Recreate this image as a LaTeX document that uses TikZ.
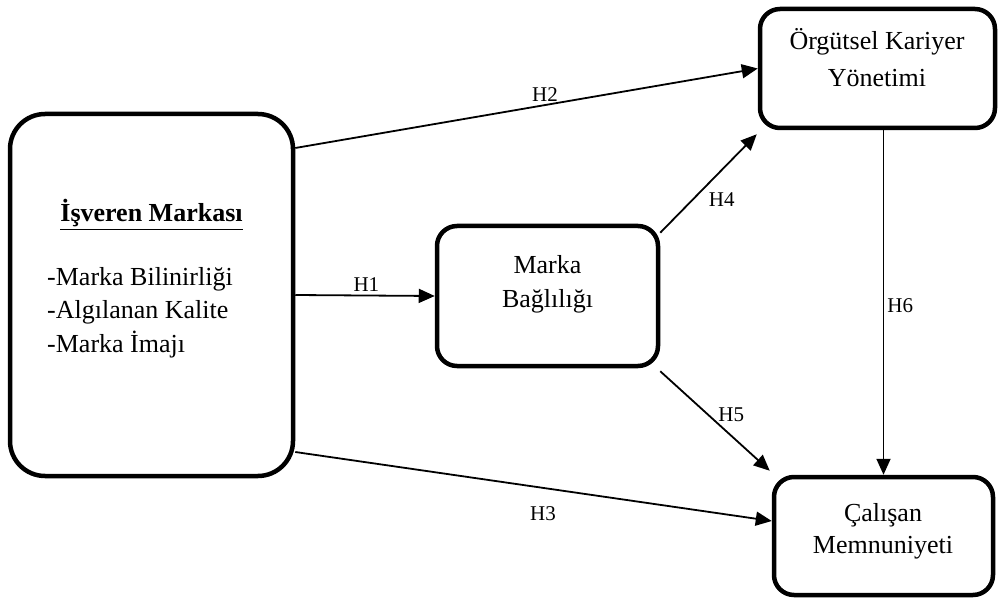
\documentclass[tikz,border=0pt]{standalone}
\usepackage{fontspec}
\setmainfont{Liberation Serif}
\usetikzlibrary{arrows.meta,positioning,calc}
\tikzset{
  hyparrow/.style={-{Triangle[length=16pt,width=14pt]}, line width=1.8pt},
  hyplabel/.style={font=\fontsize{21}{25}\selectfont, inner sep=1pt},
  constructbox/.style={draw, line width=4.5pt, rounded corners=20pt},
  constructtext/.style={font=\fontsize{26}{35}\selectfont, align=center, inner sep=0pt, anchor=base}
}

\begin{document}
\begin{tikzpicture}[x=1pt, y=-1pt]
\useasboundingbox (0,0) rectangle (999,604);

% construct boxes
\node[constructbox, rounded corners=35pt, minimum width=283pt, minimum height=362pt] (isveren) at (151.5,295) {};
\node[constructbox, minimum width=221pt, minimum height=140pt] (marka) at (547.5,296) {};
\node[constructbox, minimum width=235pt, minimum height=119pt] (orgutsel) at (877.5,68.5) {};
\node[constructbox, minimum width=219pt, minimum height=118pt] (calisan) at (883.5,536) {};

% box texts (base = last line)
\node[constructtext] (isvtitle) at ([yshift=73pt]isveren.center) {\textbf{\underline{İşveren Markası}}};
\node[constructtext, font=\fontsize{26}{33.5}\selectfont, align=left, anchor=base west] (isvlist)
  at ([xshift=-104.5pt,yshift=-57pt]isveren.center)
  {-Marka Bilinirliği\\-Algılanan Kalite\\-Marka İmajı};
\node[constructtext] (markatext) at ([yshift=-12pt]marka.center) {Marka\\Bağlılığı};
\node[constructtext, font=\fontsize{26}{37}\selectfont] (orgutseltext)
  at ([xshift=-0.5pt,yshift=-18.5pt]orgutsel.center) {Örgütsel Kariyer\\Yönetimi};
\node[constructtext, font=\fontsize{26}{32}\selectfont] (calisantext)
  at ([xshift=-0.5pt,yshift=-17pt]calisan.center) {Çalışan\\Memnuniyeti};

% hypotheses
\draw[hyparrow] (isveren.east) -- (marka.west)
  node[hyplabel, pos=0.51, above=2pt] (h1) {H1};
\draw[hyparrow] ([yshift=147pt]isveren.east) -- (orgutsel.west)
  node[hyplabel, pos=0.54, above=2pt] (h2) {H2};
\draw[hyparrow] ([yshift=-157pt]isveren.east) -- ([yshift=15pt]calisan.west)
  node[hyplabel, pos=0.52, below=17pt] (h3) {H3};
\draw[hyparrow] ([yshift=-9pt]marka.north east) -- ([xshift=-1pt,yshift=-4pt]orgutsel.south west)
  node[hyplabel, pos=0.34, right=14pt] (h4) {H4};
\draw[hyparrow] ([yshift=-3pt]marka.south east) -- ([xshift=-2pt,yshift=4pt]calisan.north west)
  node[hyplabel, pos=0.44, right=8pt] (h5) {H5};
\draw[hyparrow] (calisan.north |- orgutsel.south) -- (calisan.north)
  node[hyplabel, pos=0.51, right=2pt] (h6) {H6};

\end{tikzpicture}
\end{document}
